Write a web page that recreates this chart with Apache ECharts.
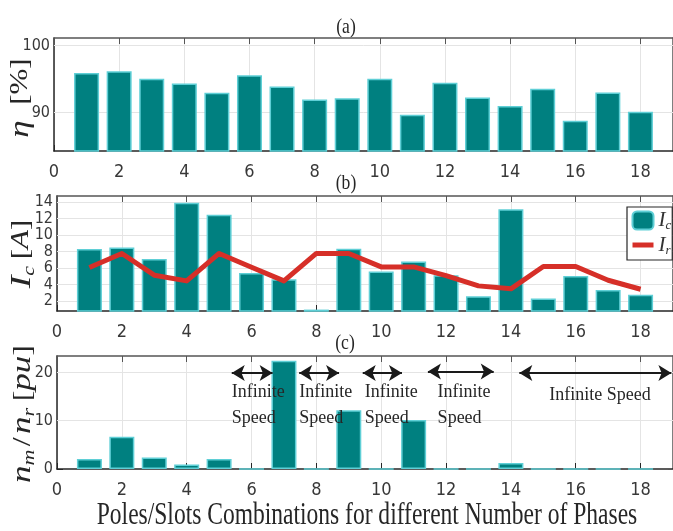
<!DOCTYPE html>
<html>
<head>
<meta charset="utf-8">
<script src="https://cdn.jsdelivr.net/npm/echarts@6/dist/echarts.min.js"></script>
<style>
  html, body { margin: 0; padding: 0; background: #fff; }
  #chart { width: 673px; height: 531px; }
</style>
</head>
<body>
<div id="chart"></div>
<script>
// Pole/slot combination index on the horizontal axis
const combos = [1, 2, 3, 4, 5, 6, 7, 8, 9, 10, 11, 12, 13, 14, 15, 16, 17, 18];
// (a) efficiency, %
const efficiency = [95.9, 96.15, 95.05, 94.35, 92.95, 95.55, 93.9, 91.95, 92.15,
                    95.05, 89.7, 94.45, 92.25, 91.0, 93.55, 88.8, 93.0, 90.15];
// (b) coil current I_c, A
const coilCurrent = [8.3, 8.5, 7.1, 13.9, 12.45, 5.4, 4.65, 1.0, 8.35,
                     5.6, 6.8, 5.15, 2.6, 13.1, 2.35, 5.05, 3.35, 2.8];
// (b) rated current I_r, A
const ratedCurrent = [6.07, 7.77, 5.15, 4.46, 7.77, 6.1, 4.46, 7.77, 7.77,
                      6.15, 6.15, 5.1, 3.86, 3.5, 6.2, 6.2, 4.54, 3.45];
// (c) speed ratio n_m / n_r, pu (0 where the speed is infinite)
const speedRatio = [2.05, 6.7, 2.4, 0.95, 2.05, 0, 22.4, 0, 12.15,
                    0, 10.15, 0, 0, 1.25, 0, 0, 0, 0];

// Tick values
const xTicks = [0, 2, 4, 6, 8, 10, 12, 14, 16, 18];
const effTicks = [90, 100];
const currentTicks = [2, 4, 6, 8, 10, 12, 14];
const speedTicks = [0, 10, 20];

const AXIS = '#262626';
const FRAME = '#555555';
const GRIDC = '#e4e4e4';
const TEAL = '#008080';
const EDGE = '#5fcfd6';
const RED = '#d62f28';
const tickFont = '"Liberation Sans Narrow", "DejaVu Sans Condensed", "Liberation Sans", sans-serif';
const serif = '"Liberation Serif", "DejaVu Serif", serif';

function xAxesFor(gi) {
  return [
    {
      type: 'value', gridIndex: gi, position: 'bottom', min: 0, max: 19, interval: 2,
      axisLine: { show: true, onZero: false, lineStyle: { color: AXIS, width: 1.5 } },
      axisTick: { show: true, inside: true, length: 6, customValues: xTicks, lineStyle: { color: AXIS } },
      axisLabel: {
        customValues: xTicks, showMinLabel: true, showMaxLabel: true, hideOverlap: false,
        margin: 12, color: '#383838', fontFamily: tickFont, fontSize: 18
      },
      splitLine: { show: true, lineStyle: { color: GRIDC, width: 1 } }
    },
    {
      type: 'value', gridIndex: gi, position: 'top', min: 0, max: 19, interval: 2,
      axisLine: { show: true, onZero: false, lineStyle: { color: FRAME, width: 1.5 } },
      axisTick: { show: true, inside: true, length: 6, customValues: xTicks, lineStyle: { color: FRAME } },
      axisLabel: { show: false },
      splitLine: { show: false }
    }
  ];
}

function yAxesFor(gi, min, max, ticks) {
  return [
    {
      type: 'value', gridIndex: gi, position: 'left', min: min, max: max,
      axisLine: { show: true, onZero: false, lineStyle: { color: AXIS, width: 1.5 } },
      axisTick: { show: true, inside: true, length: 6, customValues: ticks, lineStyle: { color: AXIS } },
      axisLabel: {
        customValues: ticks, showMinLabel: true, showMaxLabel: true, hideOverlap: false,
        margin: 4, color: '#383838', fontFamily: tickFont, fontSize: 16, lineHeight: 13
      },
      splitLine: { show: false }
    },
    {
      type: 'value', gridIndex: gi, position: 'right', min: min, max: max,
      axisLine: { show: true, onZero: false, lineStyle: { color: FRAME, width: 1.5 } },
      axisTick: { show: true, inside: true, length: 5, customValues: ticks, lineStyle: { color: FRAME } },
      axisLabel: { show: false },
      splitLine: { show: false }
    }
  ];
}

// horizontal grid lines drawn at the tick values, behind the bars
function gridLines(ticks) {
  return {
    silent: true, z: 1, symbol: 'none',
    label: { show: false },
    lineStyle: { color: GRIDC, width: 1, type: 'solid' },
    emphasis: { disabled: true },
    data: ticks.map(v => ({ yAxis: v }))
  };
}

function pairs(values) {
  return combos.map((c, i) => [c, values[i]]);
}

const barStyle = { color: TEAL, borderColor: EDGE, borderWidth: 1.5 };

// "Infinite Speed" spans in panel (c): [from, to, height]
const infiniteSpans = [[5.39, 6.65, 19.9], [7.47, 8.7, 19.9], [9.43, 10.64, 19.9], [11.44, 13.47, 20.2], [14.26, 18.95, 19.9]];
const infiniteNotes = [[5.39, 13.2], [7.47, 13.2], [9.49, 13.2], [11.74, 13.2]];

const option = {
  animation: false,
  backgroundColor: '#ffffff',
  grid: [
    { left: 54, top: 38, width: 619, height: 113, outerBoundsMode: 'none' },
    { left: 57, top: 196, width: 616, height: 115, outerBoundsMode: 'none' },
    { left: 57, top: 356, width: 616, height: 113, outerBoundsMode: 'none' }
  ],
  xAxis: [].concat(xAxesFor(0), xAxesFor(1), xAxesFor(2)),
  yAxis: [].concat(
    yAxesFor(0, 84.3, 101.1, effTicks),
    yAxesFor(1, 0.83, 14.7, currentTicks),
    yAxesFor(2, 0, 23.4, speedTicks)
  ),
  legend: {
    left: 627, top: 207, orient: 'vertical',
    backgroundColor: '#ffffff', borderColor: AXIS, borderWidth: 1.2,
    padding: [3, 1, 3, 3], itemWidth: 21, itemHeight: 18, itemGap: 2,
    data: [
      { name: 'Ic' },
      { name: 'Ir', itemStyle: { opacity: 0 }, lineStyle: { width: 5, color: RED } }
    ],
    formatter: name => name === 'Ic' ? '{i|I}{s|c}' : '{i|I}{s|r}',
    textStyle: {
      color: '#333',
      rich: {
        i: { fontFamily: serif, fontStyle: 'italic', fontSize: 21, lineHeight: 24 },
        s: { fontFamily: serif, fontStyle: 'italic', fontSize: 13, verticalAlign: 'bottom' }
      }
    }
  },
  series: [
    {
      name: 'Efficiency', type: 'bar', xAxisIndex: 0, yAxisIndex: 0,
      data: pairs(efficiency), barWidth: 25, itemStyle: barStyle, z: 2,
      markLine: gridLines(effTicks)
    },
    {
      name: 'Ic', type: 'bar', xAxisIndex: 2, yAxisIndex: 2,
      data: pairs(coilCurrent), barWidth: 25, itemStyle: barStyle, z: 2,
      markLine: gridLines(currentTicks)
    },
    {
      name: 'Ir', type: 'line', xAxisIndex: 2, yAxisIndex: 2,
      data: pairs(ratedCurrent), symbol: 'none', z: 3,
      lineStyle: { color: RED, width: 5, join: 'round' }, itemStyle: { color: RED }
    },
    {
      name: 'Speed', type: 'bar', xAxisIndex: 4, yAxisIndex: 4,
      data: pairs(speedRatio), barWidth: 25, itemStyle: barStyle, z: 2,
      markLine: gridLines([10, 20])
    },
    {
      name: 'Infinite', type: 'line', xAxisIndex: 4, yAxisIndex: 4, data: [], z: 4,
      markLine: {
        silent: true, z: 4,
        symbol: ['arrow', 'arrow'], symbolSize: [12, 13],
        label: { show: false },
        lineStyle: { color: '#1a1a1a', width: 2, type: 'solid' },
        emphasis: { disabled: true },
        data: infiniteSpans.map(s => [{ coord: [s[0], s[2]] }, { coord: [s[1], s[2]] }])
      },
      markPoint: {
        silent: true, z: 4, symbol: 'circle', symbolSize: 0,
        label: {
          show: true, position: 'right', distance: 0, formatter: '{b}',
          fontFamily: serif, fontSize: 18, lineHeight: 26, color: '#262626'
        },
        data: infiniteNotes.map(p => ({ name: 'Infinite\nSpeed', coord: p })).concat([
          { name: 'Infinite Speed', coord: [16.75, 15.3], label: { position: 'inside' } }
        ])
      }
    }
  ],
  graphic: [
    { type: 'text', x: 346, y: 27, scaleX: 0.8, style: { text: '(a)', align: 'center', verticalAlign: 'middle', fontFamily: serif, fontSize: 22, fill: '#262626' } },
    { type: 'text', x: 346, y: 183, scaleX: 0.8, style: { text: '(b)', align: 'center', verticalAlign: 'middle', fontFamily: serif, fontSize: 22, fill: '#262626' } },
    { type: 'text', x: 345, y: 343, scaleX: 0.8, style: { text: '(c)', align: 'center', verticalAlign: 'middle', fontFamily: serif, fontSize: 22, fill: '#262626' } },
    {
      type: 'text', x: 367, y: 516, scaleX: 0.735,
      style: { text: 'Poles/Slots Combinations for different Number of Phases', align: 'center', verticalAlign: 'middle', fontFamily: serif, fontSize: 32, fill: '#262626' }
    },
    {
      type: 'text', x: 21, y: 98, rotation: Math.PI / 2, scaleY: 0.78,
      style: {
        text: '{e|η}{b|  [%]}', align: 'center', verticalAlign: 'middle', fill: '#262626',
        rich: {
          e: { fontFamily: serif, fontStyle: 'italic', fontSize: 35 },
          b: { fontFamily: serif, fontSize: 31 }
        }
      }
    },
    {
      type: 'text', x: 22, y: 254, rotation: Math.PI / 2, scaleY: 0.78,
      style: {
        text: '{i|I}{s|c}  {b|[}{a|A}{b|]}', align: 'center', verticalAlign: 'middle', fill: '#262626',
        rich: {
          i: { fontFamily: serif, fontStyle: 'italic', fontSize: 38, lineHeight: 40 },
          s: { fontFamily: serif, fontStyle: 'italic', fontSize: 22, verticalAlign: 'bottom' },
          a: { fontFamily: serif, fontStyle: 'italic', fontSize: 31 },
          b: { fontFamily: serif, fontSize: 31 }
        }
      }
    },
    {
      type: 'text', x: 23, y: 414, rotation: Math.PI / 2, scaleY: 0.78,
      style: {
        text: '{n|n}{s|m} {b|/} {n|n}{s|r}  {b|[}{n|pu}{b|]}', align: 'center', verticalAlign: 'middle', fill: '#262626',
        rich: {
          n: { fontFamily: serif, fontStyle: 'italic', fontSize: 35, lineHeight: 38 },
          s: { fontFamily: serif, fontStyle: 'italic', fontSize: 22, verticalAlign: 'bottom' },
          b: { fontFamily: serif, fontSize: 32 }
        }
      }
    }
  ]
};

const chart = echarts.init(document.getElementById('chart'), null, { renderer: 'canvas' });
chart.setOption(option);
</script>
</body>
</html>
